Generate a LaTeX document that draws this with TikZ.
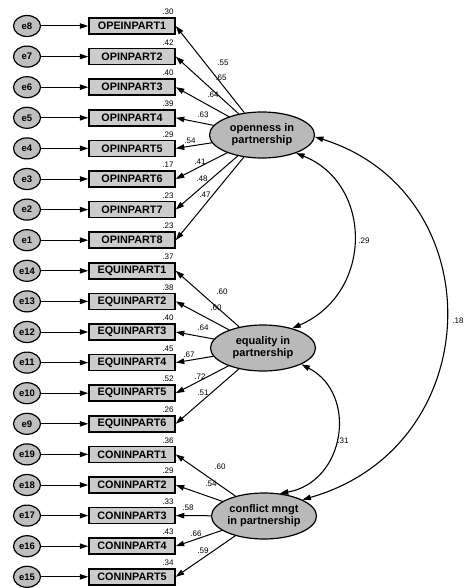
\documentclass[tikz,border=0pt]{standalone}
\usepackage{fontspec}
\setmainfont{Liberation Sans}
\usetikzlibrary{arrows.meta,shapes.geometric}
\begin{document}
\begin{tikzpicture}[x=1pt,y=-1pt,
  obs/.style={draw=black,line width=1.5pt,fill=gray!40,minimum width=86pt,minimum height=16pt,inner sep=0pt,font=\fontsize{10.8}{12}\selectfont\bfseries},
  err/.style={ellipse,draw=black,line width=1.2pt,fill=gray!50,minimum width=27pt,minimum height=21pt,inner sep=0pt,font=\fontsize{9.5}{10}\selectfont\bfseries},
  lat/.style={ellipse,draw=black,line width=1.2pt,fill=gray!55,minimum width=105pt,minimum height=46pt,inner sep=0pt,align=center,font=\fontsize{11}{12}\selectfont\bfseries},
  coef/.style={font=\fontsize{8}{8}\selectfont,inner sep=0pt},
  ldarrow/.style={line width=1pt,-{Triangle[length=8.5pt,width=5.5pt]}},
  cov/.style={line width=1.1pt,{Triangle[length=8.5pt,width=5.5pt]}-{Triangle[length=8.5pt,width=5.5pt]}}
]
\useasboundingbox[fill=white] (0,0) rectangle (464,588);

\foreach \i/\e/\v/\r in {0/e8/OPEINPART1/.30, 1/e7/OPINPART2/.42, 2/e6/OPINPART3/.40, 3/e5/OPINPART4/.39,
  4/e4/OPINPART5/.29, 5/e3/OPINPART6/.17, 6/e2/OPINPART7/.23, 7/e1/OPINPART8/.23,
  8/e14/EQUINPART1/.37, 9/e13/EQUINPART2/.38, 10/e12/EQUINPART3/.40, 11/e11/EQUINPART4/.45,
  12/e10/EQUINPART5/.52, 13/e9/EQUINPART6/.26,
  14/e19/CONINPART1/.36, 15/e18/CONINPART2/.29, 16/e17/CONINPART3/.33, 17/e16/CONINPART4/.43, 18/e15/CONINPART5/.34} {
  \node[obs] (v\i) at (132,{26+30.6*\i}) {\v};
  \node[err] (err\i) at (27,{26+30.6*\i}) {\e};
  \draw[ldarrow] (err\i) -- (v\i);
  \node[coef] (r\i) at (168,{12+30.6*\i}) {\r};
}

\node[lat] (open) at (262,135) {openness in\\partnership};
\node[lat] (equal) at (263,348) {equality in\\partnership};
\node[lat] (conf) at (264,516) {conflict mngt\\in partnership};

\foreach \i/\x/\y/\l in {0/223/63/.55, 1/221/78/.65, 2/213/95/.64, 3/203/115/.63,
  4/190/141/.54, 5/200/162/.41, 6/202/179/.48, 7/205/195/.47} {
  \draw[ldarrow] (open) -- (v\i.east);
  \node[coef] (lo\i) at (\x,\y) {\l};
}
\foreach \i/\x/\y/\l in {8/222/292/.60, 9/216/308/.60, 10/203/328/.64, 11/189/355/.67,
  12/200/377/.72, 13/203/393/.51} {
  \draw[ldarrow] (equal) -- (v\i.east);
  \node[coef] (le\i) at (\x,\y) {\l};
}
\foreach \i/\x/\y/\l in {14/220/467/.60, 15/211/484/.54, 16/188/508/.58, 17/196/534/.66, 18/203/551/.59} {
  \draw[ldarrow] (conf) -- (v\i.east);
  \node[coef] (lc\i) at (\x,\y) {\l};
}

\draw[cov] (open.-28) .. controls (373,184) and (373.6,293) .. (equal.34);
\draw[cov] (open.-2) .. controls (493.5,193) and (489.3,446.3) .. (conf.23.5);
\draw[cov] (equal.-23) .. controls (358.7,394.3) and (345,482) .. (conf.55);
\node[coef] (c1) at (364,241) {.29};
\node[coef] (c2) at (458,321) {.18};
\node[coef] (c3) at (343,441) {.31};
\end{tikzpicture}
\end{document}
